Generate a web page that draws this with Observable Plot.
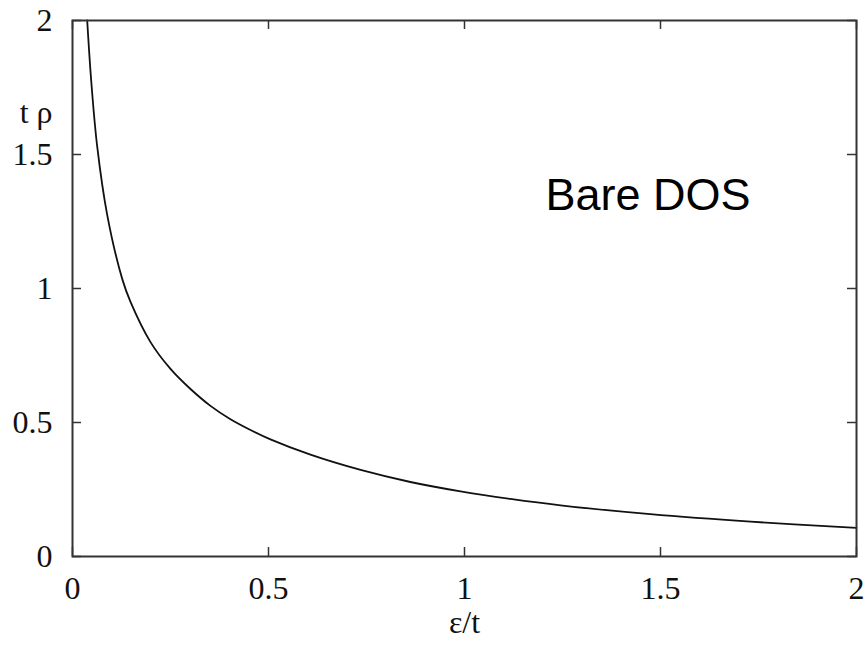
<!DOCTYPE html>
<html>
<head>
<meta charset="utf-8">
<script src="https://cdn.jsdelivr.net/npm/d3@7"></script>
<script src="https://cdn.jsdelivr.net/npm/@observablehq/plot@0.6"></script>
<style>
  html, body { margin: 0; padding: 0; background: #fff; }
  #chart { width: 867px; height: 648px; }
</style>
</head>
<body>
<div id="chart"></div>
<script>
// Values
const eps = [0.0375, 0.048, 0.063, 0.0885, 0.127, 0.148, 0.199, 0.25, 0.301, 0.352, 0.403, 0.454, 0.505, 0.607, 0.735, 0.862, 0.99, 1.117, 1.245, 1.474, 1.73, 2.0];
const rho = [2.0, 1.77, 1.53, 1.275, 1.035, 0.95, 0.80, 0.70, 0.625, 0.562, 0.512, 0.472, 0.437, 0.380, 0.323, 0.278, 0.243, 0.215, 0.191, 0.158, 0.130, 0.107];
const xTicks = [0, 0.5, 1, 1.5, 2];
const yTicks = [0, 0.5, 1, 1.5, 2];
const xLabel = "ε/t";
const yLabel = "t ρ";
const annotation = "Bare DOS";

const data = eps.map((e, i) => ({eps: e, rho: rho[i]}));
const serif = "'Liberation Serif', 'Times New Roman', serif";

const chart = Plot.plot({
  width: 867,
  height: 648,
  marginLeft: 72,
  marginRight: 11,
  marginTop: 20,
  marginBottom: 92,
  x: {domain: [0, 2]},
  y: {domain: [0, 2]},
  style: {fontFamily: serif, fontSize: "32px", background: "#fff", color: "#111"},
  marks: [
    Plot.line(data, {x: "eps", y: "rho", curve: "catmull-rom", stroke: "#111", strokeWidth: 1.8}),
    Plot.tickX(xTicks, {x: d => d, insetTop: 527, stroke: "#333", strokeWidth: 1.5}),
    Plot.tickX(xTicks, {x: d => d, insetBottom: 527, stroke: "#333", strokeWidth: 1.5}),
    Plot.tickY(yTicks, {y: d => d, insetRight: 775, stroke: "#333", strokeWidth: 1.5}),
    Plot.tickY(yTicks, {y: d => d, insetLeft: 775, stroke: "#333", strokeWidth: 1.5}),
    Plot.frame({stroke: "#333", strokeWidth: 2}),
    Plot.axisX(xTicks, {tickSize: 0, tickPadding: 20, tickFormat: d => String(d), label: null, fontSize: 32, fill: "#111"}),
    Plot.axisY(yTicks, {tickSize: 0, tickPadding: 20, tickFormat: d => String(d), label: null, fontSize: 32, fill: "#111"}),
    Plot.text([yLabel], {frameAnchor: "top-left", dx: -20, dy: 80, textAnchor: "end", fontSize: 32, fill: "#111"}),
    Plot.text([xLabel], {frameAnchor: "bottom", dy: 76, fontSize: 32, fill: "#111"}),
    Plot.text([annotation], {frameAnchor: "top-left", dx: 473, dy: 158, textAnchor: "start", fontFamily: "'Liberation Sans', Arial, sans-serif", fontSize: 45, fill: "#000"})
  ]
});
document.getElementById("chart").appendChild(chart);
</script>
</body>
</html>
